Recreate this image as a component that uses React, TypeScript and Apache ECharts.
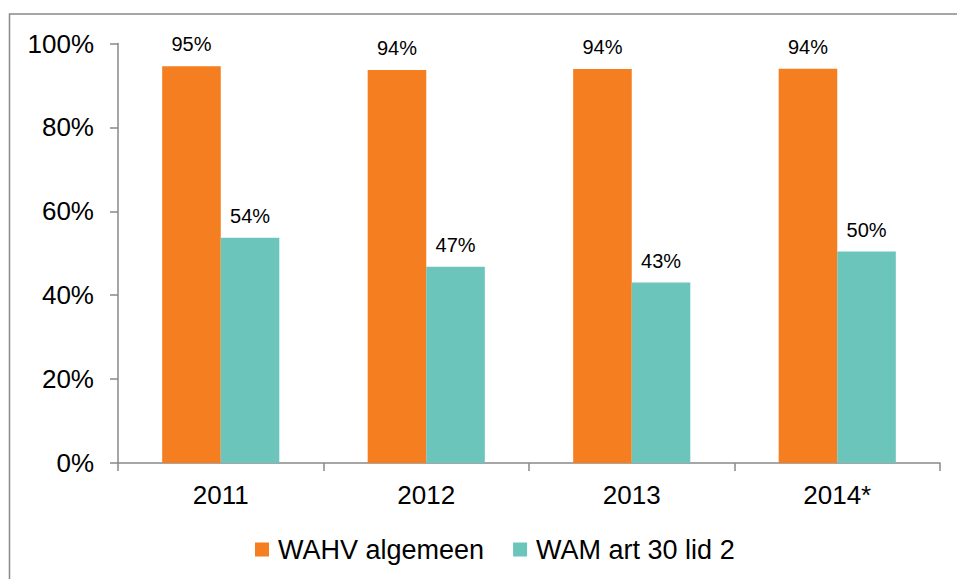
import React, { useEffect, useRef } from "react";
import * as echarts from "echarts";

const categories = ["2011", "2012", "2013", "2014*"];
const seriesNames = ["WAHV algemeen", "WAM art 30 lid 2"];
const wahvValues = [94.6, 93.7, 93.9, 94.0];
const wamValues = [53.7, 46.8, 43.0, 50.4];
const yTicks = [0, 20, 40, 60, 80, 100];

const FONT = "Liberation Sans, Arial, sans-serif";

export default function App() {
  const ref = useRef<HTMLDivElement>(null);
  useEffect(() => {
    if (!ref.current) return;
    const chart = echarts.init(ref.current, null, { renderer: "svg" });
    const labelCfg = {
      show: true,
      position: "top",
      distance: 12,
      fontFamily: FONT,
      fontSize: 20,
      color: "#000",
      formatter: (p: any) => Math.round(p.value) + "%",
    };
    chart.setOption({
      animation: false,
      backgroundColor: "#fff",
      textStyle: { fontFamily: FONT },
      graphic: [
        {
          type: "rect",
          shape: { x: 9.5, y: 14, width: 1000, height: 700 },
          style: { fill: "none", stroke: "#898989", lineWidth: 1.5 },
          silent: true,
        },
      ],
      grid: { left: 118, right: 17, top: 43.5, bottom: 116, containLabel: false },
      legend: {
        left: 250,
        top: 531,
        itemWidth: 14,
        itemHeight: 14,
        itemGap: 29,
        icon: "rect",
        textStyle: { fontFamily: FONT, fontSize: 27, color: "#000", padding: [0, 0, 0, 4] },
        data: seriesNames,
      },
      xAxis: {
        type: "category",
        data: categories,
        axisLine: { show: true, lineStyle: { color: "#898989", width: 1.5 } },
        axisTick: { show: true, length: 8, alignWithLabel: false, lineStyle: { color: "#898989", width: 1.5 } },
        axisLabel: { fontFamily: FONT, fontSize: 26, color: "#000", margin: 19 },
      },
      yAxis: {
        type: "value",
        min: 0,
        max: 100,
        interval: 20,
        axisLine: { show: true, lineStyle: { color: "#898989", width: 1.5 } },
        axisTick: { show: true, length: 8, lineStyle: { color: "#898989", width: 1.5 } },
        splitLine: { show: false },
        axisLabel: {
          fontFamily: FONT,
          fontSize: 26,
          color: "#000",
          margin: 24,
          formatter: (v: number) => (yTicks.includes(v) ? v + "%" : ""),
        },
      },
      series: [
        {
          name: seriesNames[0],
          type: "bar",
          data: wahvValues,
          itemStyle: { color: "#F47E20" },
          barGap: "0%",
          barCategoryGap: "43%",
          label: labelCfg,
        },
        {
          name: seriesNames[1],
          type: "bar",
          data: wamValues,
          itemStyle: { color: "#6CC5BB" },
          label: labelCfg,
        },
      ],
    });
    return () => chart.dispose();
  }, []);
  return (
    <div
      ref={ref}
      style={{ position: "absolute", left: 0, top: 0, width: 957, height: 579 }}
    />
  );
}
